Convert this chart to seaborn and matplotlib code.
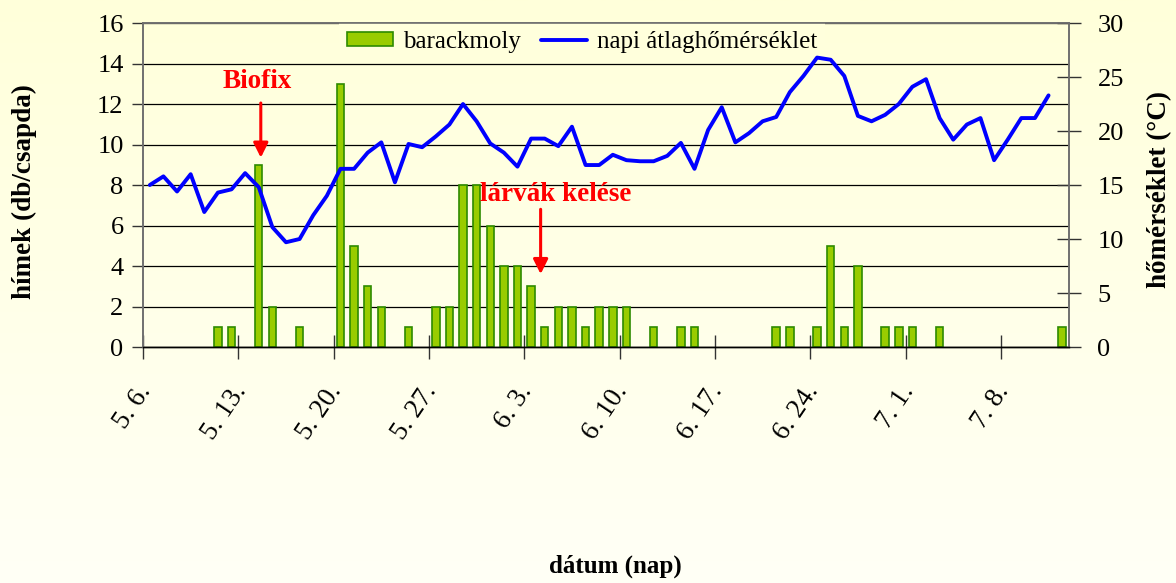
import numpy as np
import pandas as pd
import matplotlib
matplotlib.use("Agg")
import matplotlib.pyplot as plt
from matplotlib.patches import Patch
from matplotlib.lines import Line2D
import seaborn as sns

# ---------------- data ----------------
# daily observations from 5.6. to 7.12. (68 days)
moth_counts = [0, 0, 0, 0, 0, 1, 1, 0, 9, 2, 0, 1, 0, 0, 13, 5, 3, 2, 0, 1,
               0, 2, 2, 8, 8, 6, 4, 4, 3, 1, 2, 2, 1, 2, 2, 2, 0, 1, 0, 1,
               1, 0, 0, 0, 0, 0, 1, 1, 0, 1, 5, 1, 4, 0, 1, 1, 1, 0, 1, 0,
               0, 0, 0, 0, 0, 0, 0, 1]
temperature = [15.0, 15.8, 14.4, 16.0, 12.5, 14.3, 14.6, 16.1, 14.8, 11.1,
               9.7, 10.0, 12.2, 14.0, 16.5, 16.5, 18.0, 18.95, 15.25, 18.8,
               18.5, 19.5, 20.6, 22.5, 20.9, 18.85, 18.0, 16.7, 19.3, 19.3,
               18.6, 20.4, 16.85, 16.85, 17.8, 17.3, 17.2, 17.2, 17.7, 18.9,
               16.5, 20.1, 22.2, 18.95, 19.8, 20.9, 21.3, 23.6, 25.1, 26.8,
               26.6, 25.1, 21.4, 20.9, 21.5, 22.5, 24.1, 24.8, 21.2, 19.2,
               20.6, 21.2, 17.3, 19.2, 21.2, 21.2, 23.3]
tick_labels = ["5. 6.", "5. 13.", "5. 20.", "5. 27.", "6. 3.", "6. 10.",
               "6. 17.", "6. 24.", "7. 1.", "7. 8."]
series_names = ["barackmoly", "napi átlaghőmérséklet"]
annotations = ["Biofix", "lárvák kelése"]

days = list(range(len(moth_counts)))
temp_days = list(range(len(temperature)))
df_moth = pd.DataFrame({"day": days, "count": moth_counts})
df_temp = pd.DataFrame({"day": temp_days, "temp": temperature})

# ---------------- style ----------------
sns.set_style("white")
plt.rcParams["font.family"] = ["Liberation Serif", "DejaVu Serif"]
for k in ("text.color", "axes.labelcolor", "xtick.color", "ytick.color"):
    plt.rcParams[k] = "black"

fig = plt.figure(figsize=(11.76, 5.83), dpi=100)

# background gradient
bg = fig.add_axes([0, 0, 1, 1])
bg.set_zorder(-5)
grad = np.linspace(0, 1, 256).reshape(-1, 1)
top_c = np.array([255, 255, 218]) / 255
bot_c = np.array([255, 255, 246]) / 255
img = top_c[None, None, :] * (1 - grad[..., None]) + bot_c[None, None, :] * grad[..., None]
bg.imshow(img, aspect="auto", extent=[0, 1, 0, 1])
bg.axis("off")

ax = fig.add_axes([0.1216, 0.4048, 0.7874, 0.5557])
ax.set_facecolor("none")

bar_face = "#99CC00"
bar_edge = "#2E8B00"
line_col = "#0000FF"

sns.barplot(data=df_moth, x="day", y="count", ax=ax, color=bar_face,
            saturation=1, width=0.55, edgecolor=bar_edge, linewidth=1.2)
for p in ax.patches:
    if p.get_height() == 0:
        p.set_visible(False)

ax2 = ax.twinx()
sns.lineplot(data=df_temp, x="day", y="temp", ax=ax2, color=line_col,
             linewidth=2.8)

ax.set_xlim(-0.5, len(days) - 0.5)
ax.set_ylim(0, 16)
ax2.set_ylim(0, 30)
ax.set_yticks(np.arange(0, 17, 2))
ax2.set_yticks(np.arange(0, 31, 5))

# major ticks mark week boundaries; the date labels sit on (invisible) minor
# ticks placed just to the right of them
tick_pos = [-0.5 + 7 * i for i in range(len(tick_labels))]
ax.set_xticks(tick_pos)
ax.set_xticklabels([""] * len(tick_pos))
label_pos = [p + 0.98 for p in tick_pos]
ax.set_xticks(label_pos, minor=True)
ax.set_xticklabels(tick_labels, minor=True, rotation=56, ha="right", va="top",
                   rotation_mode="default", fontsize=19.5)

ax.grid(axis="y", color="black", linewidth=0.9)
ax.grid(axis="x", visible=False)
ax2.grid(False)
ax.set_axisbelow(True)

spine_grey = "#6f6f6f"
for a in (ax, ax2):
    for s in ("left", "right", "top"):
        a.spines[s].set_color(spine_grey)
        a.spines[s].set_linewidth(1.2)
    a.spines["bottom"].set_color("black")
    a.spines["bottom"].set_linewidth(1.0)

ax.tick_params(axis="y", direction="out", length=8, width=1, color="#333333",
               labelsize=19, pad=6, left=True, labelcolor="black")
ax.tick_params(axis="x", which="major", direction="inout", length=17, width=1,
               color="#333333", bottom=True)
ax.tick_params(axis="x", which="minor", length=0, pad=24, bottom=True,
               labelcolor="black")
ax2.tick_params(axis="y", direction="inout", length=17, width=1, color="#333333",
                labelsize=19, pad=12, right=True, labelcolor="black")

ax.set_xlabel("")
ax.set_ylabel("")
ax2.set_xlabel("")
ax2.set_ylabel("")

fig.text(0.021, 0.672, "hímek (db/csapda)", rotation=90, ha="center", va="center",
         fontsize=19.5, fontweight="bold", color="black")
fig.text(0.986, 0.675, "hőmérséklet (°C)", rotation=90, ha="center", va="center",
         fontsize=19.5, fontweight="bold", color="black")
fig.text(0.523, 0.028, "dátum (nap)", ha="center", va="center",
         fontsize=18, fontweight="bold", color="black")

# annotations
ax.annotate("", xy=(8.15, 9.35), xytext=(8.15, 12.05),
            arrowprops=dict(arrowstyle="-|>", color="red", lw=2.2,
                            mutation_scale=22, shrinkA=0, shrinkB=0))
ax.text(7.9, 13.1, annotations[0], color="red", fontsize=19.5, fontweight="bold",
        ha="center", va="center")
ax.annotate("", xy=(28.7, 3.6), xytext=(28.7, 6.8),
            arrowprops=dict(arrowstyle="-|>", color="red", lw=2.2,
                            mutation_scale=22, shrinkA=0, shrinkB=0))
ax.text(29.8, 7.55, annotations[1], color="red", fontsize=19.5, fontweight="bold",
        ha="center", va="center")

# legend
handles = [Patch(facecolor=bar_face, edgecolor=bar_edge, linewidth=1.2),
           Line2D([0], [0], color=line_col, linewidth=2.8)]
leg = ax.legend(handles, series_names, ncol=2, loc="upper center",
                bbox_to_anchor=(0.474, 1.0), frameon=True, fancybox=False,
                fontsize=18, handlelength=1.85, handleheight=0.5,
                handletextpad=0.4, columnspacing=0.8, borderpad=0.3,
                borderaxespad=0.0)
leg.get_frame().set_facecolor("#FFFFDC")
leg.get_frame().set_edgecolor("none")
leg.get_frame().set_alpha(1)
for t in leg.get_texts():
    t.set_color("black")

fig.savefig("out.png", dpi=100)
